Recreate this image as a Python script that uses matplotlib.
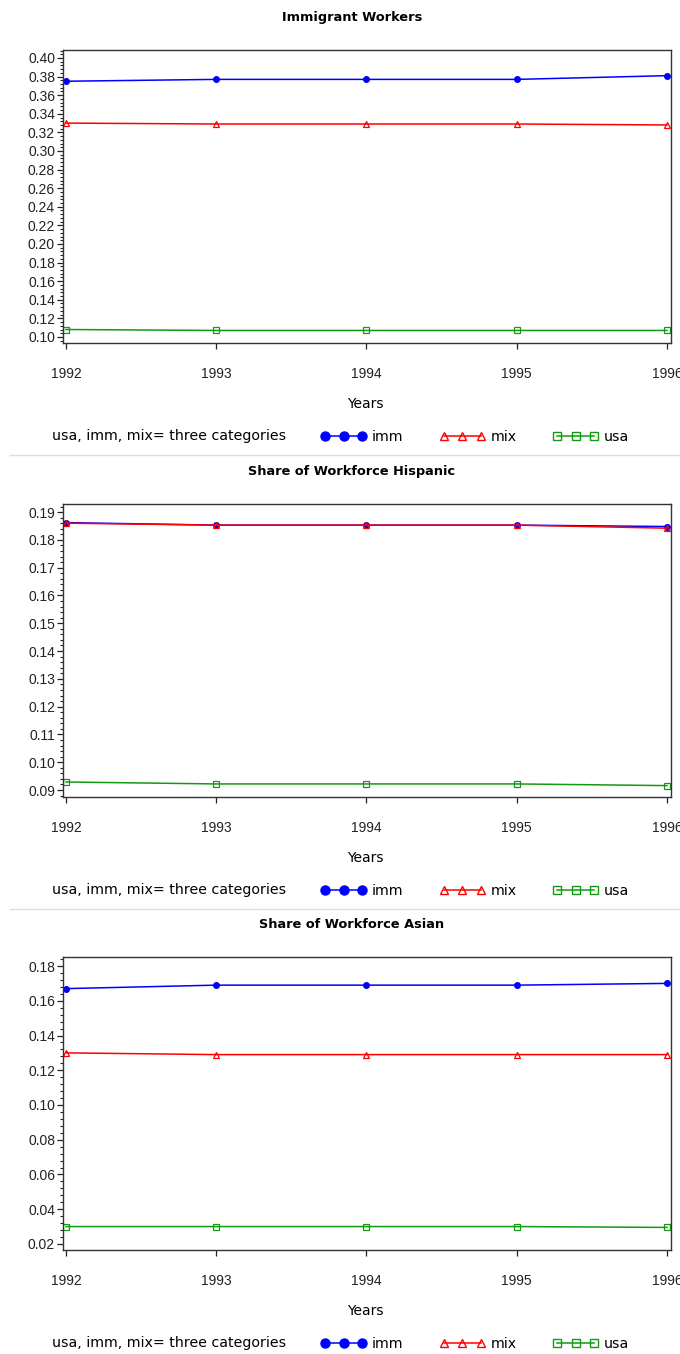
import matplotlib
matplotlib.use("Agg")
import matplotlib.pyplot as plt
from matplotlib.lines import Line2D
from matplotlib.ticker import AutoMinorLocator, FormatStrFormatter
import numpy as np

plt.rcParams['font.family'] = ['Liberation Sans', 'DejaVu Sans']

years = [1992, 1993, 1994, 1995, 1996]

# Immigrant Workers
imm_workers = [0.375, 0.377, 0.377, 0.377, 0.381]
mix_workers = [0.330, 0.329, 0.329, 0.329, 0.328]
usa_workers = [0.108, 0.107, 0.107, 0.107, 0.107]

# Share of Workforce Hispanic
imm_hisp = [0.1862, 0.1853, 0.1853, 0.1853, 0.1848]
mix_hisp = [0.1860, 0.1853, 0.1853, 0.1853, 0.1842]
usa_hisp = [0.0929, 0.0922, 0.0922, 0.0922, 0.0916]

# Share of Workforce Asian
imm_asian = [0.167, 0.169, 0.169, 0.169, 0.170]
mix_asian = [0.130, 0.129, 0.129, 0.129, 0.129]
usa_asian = [0.030, 0.030, 0.030, 0.030, 0.0295]

titles = ['Immigrant Workers', 'Share of Workforce Hispanic', 'Share of Workforce Asian']
panels = [
    (imm_workers, mix_workers, usa_workers, (0.0935, 0.4086), 0.10, 0.40, 0.02),
    (imm_hisp, mix_hisp, usa_hisp, (0.0875, 0.1929), 0.09, 0.19, 0.01),
    (imm_asian, mix_asian, usa_asian, (0.0165, 0.1852), 0.02, 0.18, 0.02),
]

W, H = 680, 1354
fig = plt.figure(figsize=(W / 100, H / 100), dpi=100)

BLUE = '#0000ff'
RED = '#ff0000'
GREEN = '#139a13'

offsets = [0, 454, 907]
ax_left, ax_right = 62.7, 671

def fy(py):
    return 1 - py / H

for i, (imm, mix, usa, ylim, y0, y1, step) in enumerate(panels):
    off = offsets[i]
    top, bot = off + 50, off + 343
    ax = fig.add_axes([ax_left / W, fy(bot), (ax_right - ax_left) / W, (bot - top) / H])
    ax.plot(years, imm, color=BLUE, lw=1.1, marker='o', ms=4, mfc=BLUE, mec=BLUE)
    ax.plot(years, mix, color=RED, lw=1.1, marker='^', ms=4.5, mfc='none', mec=RED, mew=0.9)
    ax.plot(years, usa, color=GREEN, lw=1.1, marker='s', ms=4, mfc='none', mec=GREEN, mew=0.9)
    ax.set_xlim(1991.978, 1996.027)
    ax.set_ylim(*ylim)
    ax.set_xticks(years)
    ax.set_xticklabels([str(y) for y in years])
    ax.set_yticks(np.round(np.arange(y0, y1 + step / 2, step), 4))
    ax.yaxis.set_major_formatter(FormatStrFormatter('%.2f'))
    ax.yaxis.set_minor_locator(AutoMinorLocator(5))
    ax.tick_params(axis='both', direction='out', length=4, width=0.9, labelsize=10, colors='#222222')
    ax.tick_params(axis='x', pad=13)
    ax.tick_params(axis='y', which='minor', direction='out', length=2.2, width=0.8, colors='#222222')
    ax.tick_params(axis='y', pad=1.5)
    for s in ax.spines.values():
        s.set_color('#333333')
        s.set_linewidth(1.0)

    fig.text(352 / W, fy(off + 18), titles[i], ha='center', va='center',
             fontsize=9.3, fontweight='bold', family='DejaVu Sans')
    fig.text(365 / W, fy(off + 404), 'Years', ha='center', va='center', fontsize=10,
             family='DejaVu Sans')
    fig.text(52 / W, fy(off + 436), 'usa, imm, mix= three categories', ha='left',
             va='center', fontsize=10.2, family='DejaVu Sans')

    handles = [
        Line2D([], [], color=BLUE, lw=1.1, marker='o', ms=6.5, mfc=BLUE, mec=BLUE),
        Line2D([], [], color=RED, lw=1.1, marker='^', ms=6, mfc='none', mec=RED, mew=1.0),
        Line2D([], [], color=GREEN, lw=1.1, marker='s', ms=5.5, mfc='none', mec=GREEN, mew=1.0),
    ]
    ax.legend(handles, ['imm', 'mix', 'usa'], ncol=3, numpoints=3, frameon=False,
              loc='center left', bbox_to_anchor=(321 / W, fy(off + 437)),
              bbox_transform=fig.transFigure, borderpad=0, borderaxespad=0,
              handlelength=3.2, handletextpad=0.4, columnspacing=2.55,
              prop={'family': 'DejaVu Sans', 'size': 10.2})

    if i < 2:
        fig.add_artist(Line2D([10 / W, 1], [fy(off + 455)] * 2, color='#dddddd', lw=1.0,
                              transform=fig.transFigure))

fig.savefig('out.png', dpi=100)
